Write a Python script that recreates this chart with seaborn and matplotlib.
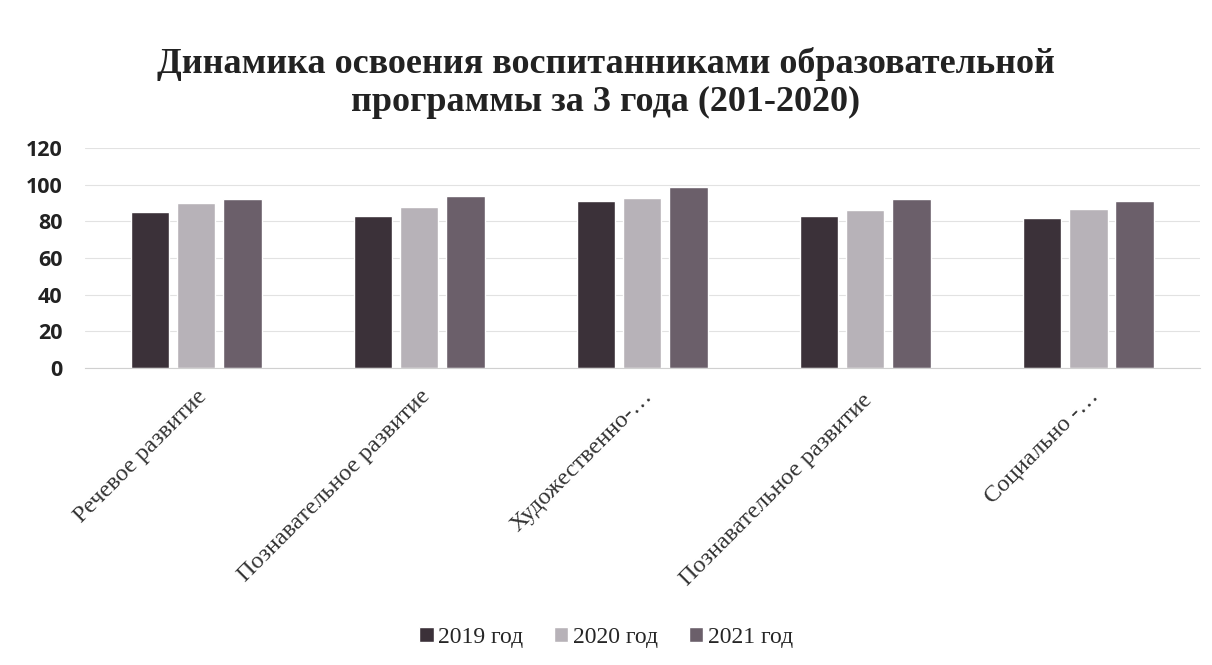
import pandas as pd
import seaborn as sns
import matplotlib.pyplot as plt

# values
categories = ['Речевое развитие', 'Познавательное развитие', 'Художественно-…',
              'Познавательное развитие ', 'Социально -…']
years = ['2019 год', '2020 год', '2021 год']
values_2019 = [85, 83, 91, 83, 82]
values_2020 = [90, 88, 93, 86, 87]
values_2021 = [92, 94, 99, 92, 91]

df = pd.DataFrame({
    'category': categories * 3,
    'year': [years[0]] * 5 + [years[1]] * 5 + [years[2]] * 5,
    'value': values_2019 + values_2020 + values_2021,
})

sns.set_style('white')
plt.rcParams['font.family'] = ['Liberation Serif', 'DejaVu Serif']

fig = plt.figure(figsize=(12.12, 6.65), dpi=100)
ax = fig.add_axes([0.07, 0.447, 0.92, 0.33])

palette = ['#3b3139', '#b7b2b8', '#6b5f6a']
sns.barplot(data=df, x='category', y='value', hue='year', palette=palette,
            width=0.62, gap=0.17, saturation=1, ax=ax, legend=True)

ax.set_ylim(0, 120)
ax.set_yticks(range(0, 121, 20))
ax.yaxis.grid(True, color='#e2e2e2', linewidth=0.8)
ax.set_axisbelow(True)
for s in ['top', 'right', 'left']:
    ax.spines[s].set_visible(False)
ax.spines['bottom'].set_color('#d0d0d0')
ax.set_xlabel('')
ax.set_ylabel('')

for lbl in ax.get_yticklabels():
    lbl.set_family(['Open Sans', 'DejaVu Sans'])
    lbl.set_fontsize(15.5)
    lbl.set_fontweight('bold')
    lbl.set_color('#222222')
ax.tick_params(axis='y', length=0, pad=16)
ax.tick_params(axis='x', length=0, pad=13)

ax.set_xticks(range(len(categories)))
ax.set_xticklabels(categories, rotation=45, ha='right', rotation_mode='anchor',
                   fontsize=17.5, color='#333333')

fig.suptitle('Динамика освоения воспитанниками образовательной\nпрограммы за 3 года (201-2020)',
             x=0.5, y=0.93, fontsize=26, fontweight='bold', color='#222222',
             linespacing=1.2)

handles, labels = ax.get_legend_handles_labels()
ax.get_legend().remove()
fig.legend(handles, labels, loc='center', bbox_to_anchor=(0.5, 0.042), ncol=3,
           frameon=False, fontsize=17, handlelength=0.6, handleheight=0.6,
           handletextpad=0.2, columnspacing=1.3)

fig.savefig('out.png', dpi=100)
